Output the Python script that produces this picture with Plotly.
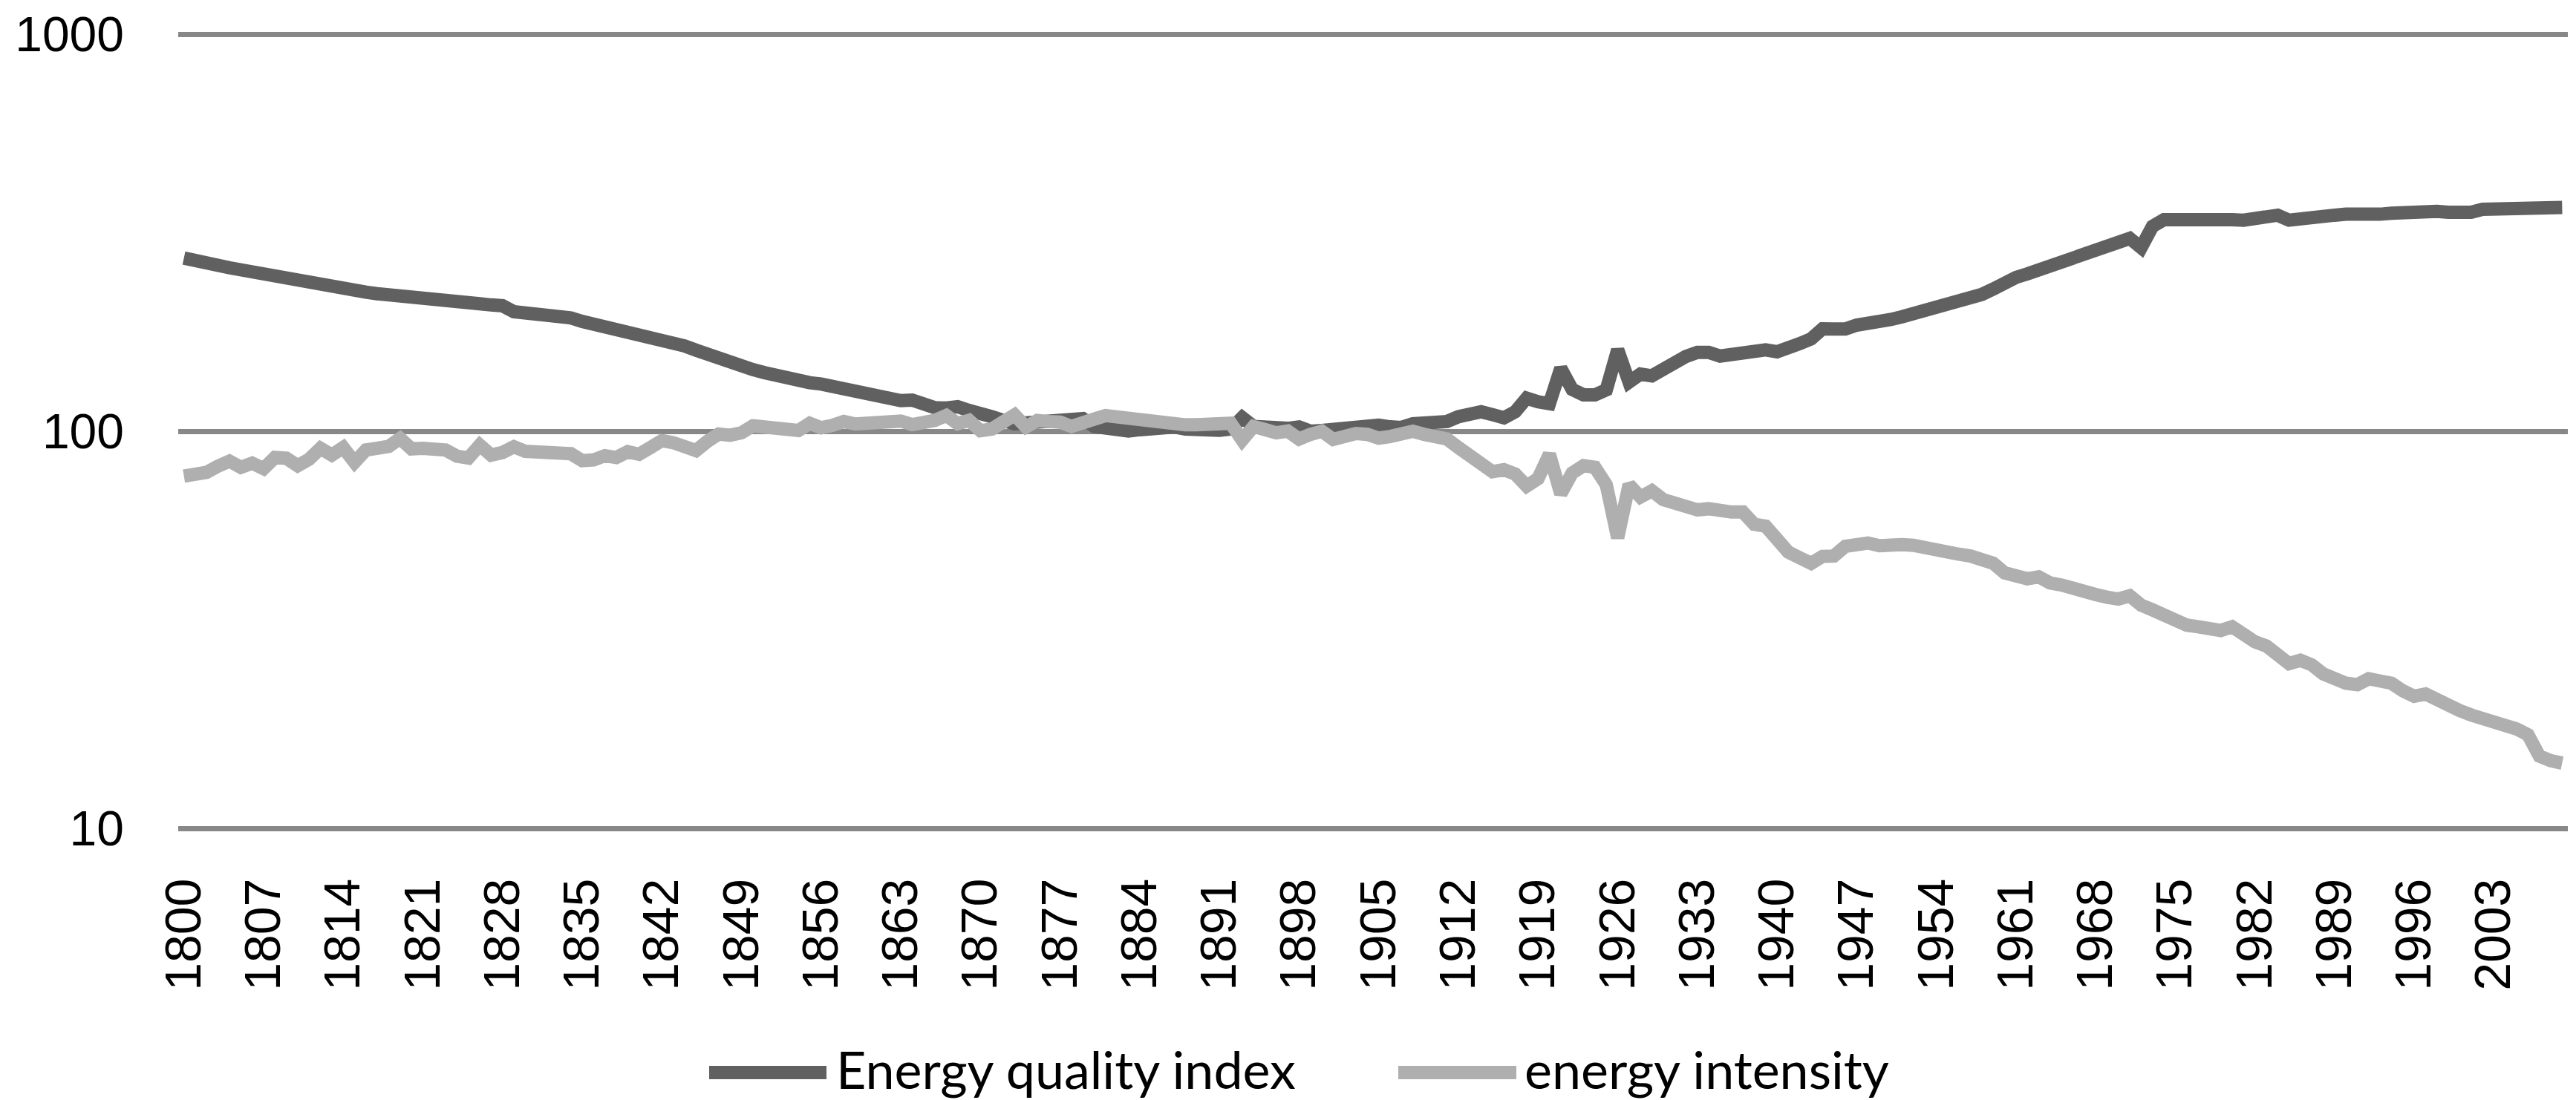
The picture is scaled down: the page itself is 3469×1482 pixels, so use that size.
import plotly.graph_objects as go

years = list(range(1800, 2010))

energy_quality_index = [
    273, 268, 264, 261, 258, 255, 252, 249, 246, 243,          # 1800-1809
    240, 236, 232, 228, 227, 225, 224, 222, 221, 219,          # 1810-1819
    217.5, 216, 214, 213, 212, 211, 209.5, 208, 207, 200,      # 1820-1829
    199, 198, 197.5, 196, 193, 189, 186, 184, 181, 179,        # 1830-1839
    176, 174, 172, 168.5, 164, 160, 156, 152, 149, 146,        # 1840-1849
    143, 140.5, 138, 135, 133.6, 132.5, 131.5, 129.7, 127.8, 125.6,  # 1850-1859
    124, 122.4, 121.5, 119.4, 119.8, 116.7, 114.6, 114.4, 115.3, 112.8,  # 1860-1869
    111.7, 108.8, 106.5, 104.3, 105.0, 105.4, 105.8, 107.0, 108.1, 107.6,  # 1870-1879
    102.8, 101.3, 100.6, 100.1, 100.9, 102.0, 102.5, 102.5, 101.3, 100.6,  # 1880-1889
    100.1, 100.6, 101.3, 108.3, 102.8, 102.2, 101.4, 101.7, 102.5, 100.0,  # 1890-1899
    100.4, 101.4, 101.9, 102.2, 102.9, 103.6, 102.6, 102.2, 104.4, 104.8,  # 1900-1909
    105.4, 105.8, 108.8, 110.9, 112.0, 110.1, 108.1, 112.0, 121.2, 118.6,  # 1910-1919
    117.3, 144.0, 127.5, 123.5, 123.5, 127.1, 160.3, 133.0, 139.3, 137.9,  # 1920-1929
    144.0, 149.3, 154.3, 158.0, 158.0, 154.6, 155.8, 157.6, 161.2, 160.3,  # 1930-1939
    158.5, 163.9, 166.2, 170.9, 181.1, 180.9, 180.9, 185.0, 186.0, 188.3,  # 1940-1949
    191.2, 194.2, 197.5, 201.1, 204, 208, 212, 217, 221, 228,  # 1950-1959
    237, 244, 249, 255, 261, 266, 271, 276, 282, 289,          # 1960-1969
    298, 306, 290, 328, 341, 342, 341, 342, 343, 341,          # 1970-1979
    341, 340, 342, 343, 350, 340, 341, 342, 346, 350,          # 1980-1989
    352, 350, 351, 352, 354, 356, 355, 357, 358, 356,          # 1990-1999
    354, 356, 362, 362, 364, 367, 368, 364, 362, 366,          # 2000-2009
]

energy_intensity = [
    77.1, 78.2, 78.8, 81.7, 84.1, 81.1, 83.1, 80.5, 85.9, 85.5,  # 1800-1809
    81.9, 85.0, 90.6, 87.1, 91.0, 83.5, 89.7, 90.6, 91.6, 95.9,  # 1810-1819
    90.3, 90.6, 90.6, 89.7, 86.5, 85.6, 92.3, 87.1, 88.4, 91.4,  # 1820-1829
    89.0, 88.8, 87.5, 88.0, 87.8, 84.3, 84.7, 86.8, 85.9, 88.8,  # 1830-1839
    87.5, 91.0, 94.7, 93.6, 91.0, 89.4, 94.3, 98.4, 97.7, 99.1,  # 1840-1849
    103.2, 102.8, 102.5, 102.5, 100.4, 104.7, 102.0, 103.5, 105.8, 104.3,  # 1850-1859
    104.7, 105.5, 106.1, 106.1, 103.9, 104.5, 106.5, 109.6, 104.5, 106.5,  # 1860-1869
    100.3, 101.3, 105.0, 109.9, 102.5, 106.5, 105.8, 105.4, 102.8, 105.8,  # 1870-1879
    107.3, 109.5, 108.5, 109.1, 107.6, 107.0, 105.8, 103.5, 103.8, 103.8,  # 1880-1889
    104.7, 104.7, 104.7, 95.0, 102.8, 101.0, 99.1, 100.1, 95.6, 98.2,  # 1890-1899
    100.0, 95.4, 97.3, 98.7, 98.2, 96.1, 97.0, 98.7, 100.0, 98.2,  # 1900-1909
    96.3, 95.6, 91.0, 86.5, 82.9, 79.1, 80.0, 78.0, 72.8, 76.0,  # 1910-1919
    87.5, 69.6, 78.5, 81.9, 81.1, 73.3, 53.9, 73.3, 68.3, 70.8,  # 1920-1929
    67.3, 65.9, 64.7, 63.4, 63.8, 62.6, 62.6, 62.6, 58.3, 57.7,  # 1930-1939
    53.5, 49.6, 48.0, 46.5, 48.4, 48.5, 51.3, 52.0, 52.3, 51.5,  # 1940-1949
    51.9, 51.8, 51.6, 50.7, 50.5, 49.5, 49.0, 48.5, 47.5, 46.5,  # 1950-1959
    44.0, 43.0, 42.5, 43.0, 41.5, 41.0, 40.5, 39.5, 38.8, 38.2,  # 1960-1969
    37.8, 38.5, 36.5, 35.5, 34.5, 33.0, 32.5, 32.2, 32.0, 31.5,  # 1970-1979
    32.2, 30.5, 29.5, 28.8, 27.5, 26.0, 26.5, 25.8, 24.5, 23.6,  # 1980-1989
    23.2, 23.0, 23.8, 23.5, 23.2, 22.2, 21.5, 21.8, 21.0, 20.2,  # 1990-1999
    19.8, 19.3, 19.0, 18.7, 18.3, 17.8, 17.2, 15.2, 14.8, 14.6,  # 2000-2009
]

tick_years = list(range(1800, 2004, 7))
tick_labels = [str(y) for y in tick_years]
y_ticks = [10, 100, 1000]
y_tick_labels = ["10", "100", "1000"]

series_names = ["Energy quality index", "energy intensity"]
dark = "#606060"
light = "#AFAFAF"
grid = "#888888"
FONT = "Lato"
TICK_FONT = "Liberation Sans"

fig = go.Figure()
fig.add_trace(go.Scatter(x=years, y=energy_quality_index, mode="lines",
                         name=series_names[0], line=dict(color=dark, width=18)))
fig.add_trace(go.Scatter(x=years, y=energy_intensity, mode="lines",
                         name=series_names[1], line=dict(color=light, width=18)))

W, H = 3469, 1482
PAD = 3                       # keep edge gridlines just inside the plot area
L, R, T, B = 232, 19, 38 - PAD, 374 - PAD
pw = W - L - R
ph = H - T - B
decade_px = 535.0
eps = PAD / decade_px

def px2paper_x(px):
    return (px - L) / pw

def px2paper_y(py):
    return (H - B - py) / ph

# manual legend (long line symbols like the original)
legend_items = [(947, 1105, 1116, dark, series_names[0]),
                (1875, 2034, 2043, light, series_names[1])]
for x0, x1, tx, col, name in legend_items:
    fig.add_shape(type="line", xref="paper", yref="paper",
                  x0=px2paper_x(x0), x1=px2paper_x(x1),
                  y0=px2paper_y(1437), y1=px2paper_y(1437),
                  line=dict(color=col, width=18))
    fig.add_annotation(xref="paper", yref="paper", x=px2paper_x(tx), y=px2paper_y(1432),
                       xanchor="left", yanchor="middle", text=name, showarrow=False,
                       font=dict(family=FONT, size=70, color="black"))

fig.update_layout(
    width=W, height=H, autosize=False,
    margin=dict(l=L, r=R, t=T, b=B, pad=0, autoexpand=False),
    paper_bgcolor="white", plot_bgcolor="white",
    showlegend=False,
    font=dict(family=FONT, size=70, color="black"),
)
fig.update_xaxes(range=[1799.5, 2009.5], tickmode="array", tickvals=tick_years,
                 ticktext=tick_labels, tickangle=-90, showgrid=False, zeroline=False,
                 showline=False, ticks="", ticklabelstandoff=50, automargin=False,
                 tickfont=dict(family=TICK_FONT, size=68, color="black"))
fig.update_yaxes(type="log", range=[1 - eps, 3 + eps], tickmode="array", tickvals=y_ticks,
                 ticktext=y_tick_labels, showgrid=True, gridcolor=grid, gridwidth=7,
                 zeroline=False, showline=False, ticks="", ticklabelstandoff=72,
                 ticklabeloverflow="allow", automargin=False,
                 tickfont=dict(family=TICK_FONT, size=66, color="black"))

fig.write_html("out.html")
